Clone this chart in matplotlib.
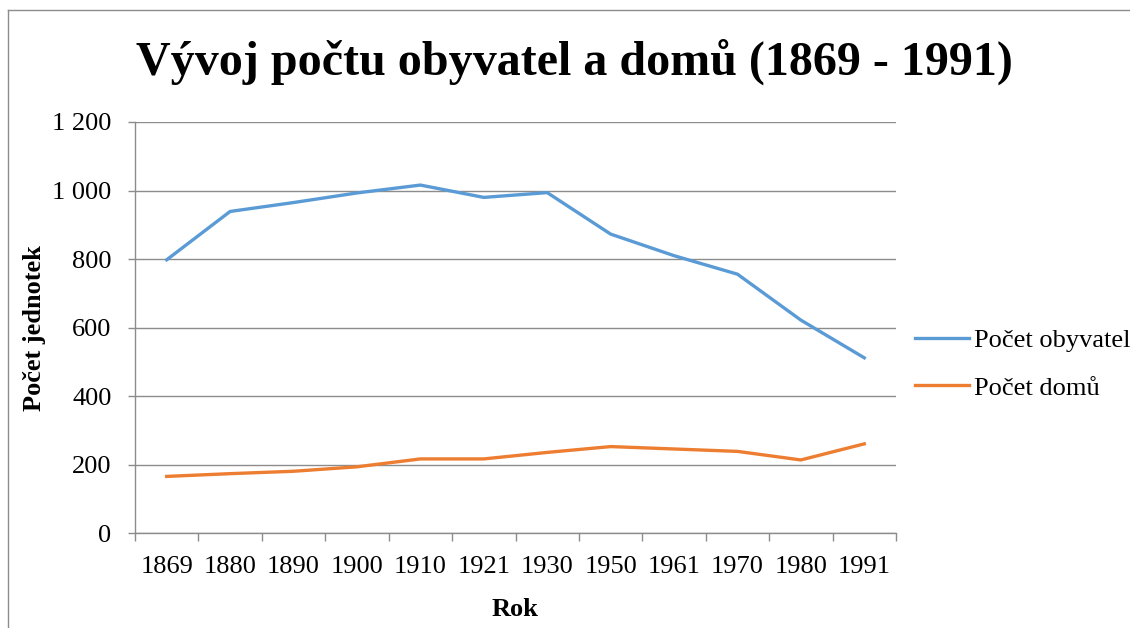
import matplotlib
matplotlib.use("Agg")
import matplotlib.pyplot as plt
from matplotlib.lines import Line2D

years = ["1869", "1880", "1890", "1900", "1910", "1921", "1930", "1950", "1961", "1970", "1980", "1991"]
obyvatel = [798, 939, 965, 993, 1016, 980, 994, 873, 810, 756, 622, 512]
domu = [166, 174, 181, 194, 217, 217, 236, 253, 246, 239, 214, 261]
yticks = [0, 200, 400, 600, 800, 1000, 1200]
ytick_labels = ["0", "200", "400", "600", "800", "1 000", "1 200"]

plt.rcParams['font.family'] = ['Liberation Serif', 'DejaVu Serif']
grid_c = "#8c8c8c"
fs = 19

fig = plt.figure(figsize=(11.3, 6.28), dpi=100)
ax = fig.add_axes([135/1130, 1 - 533.3/628, (896-135)/1130, (533.3-122)/628])

x = list(range(len(years)))
ax.plot(x, obyvatel, color="#5B9BD5", lw=2.4, label="Počet obyvatel", solid_joinstyle="round")
ax.plot(x, domu, color="#ED7D31", lw=2.4, label="Počet domů", solid_joinstyle="round")

ax.set_xlim(-0.5, len(years) - 0.5)
ax.set_ylim(0, 1200)
ax.set_yticks(yticks)
ax.set_yticklabels(ytick_labels)
ax.set_xticks([i - 0.5 for i in range(len(years) + 1)])
ax.set_xticklabels([])
ax.set_xticks(x, minor=True)
ax.set_xticklabels(years, minor=True)
ax.tick_params(axis="x", which="major", length=6, color=grid_c, width=1)
ax.tick_params(axis="x", which="minor", length=0, pad=16, labelsize=fs)
ax.tick_params(axis="y", length=5, color=grid_c, width=1, pad=12, labelsize=fs)

for s in ["top", "right"]:
    ax.spines[s].set_visible(False)
for s in ["left", "bottom"]:
    ax.spines[s].set_color(grid_c)
    ax.spines[s].set_linewidth(1)
ax.grid(axis="y", color=grid_c, lw=1)
ax.set_axisbelow(True)

ax.set_xlabel("Rok", fontsize=fs, fontweight="bold", labelpad=15)
ax.set_ylabel("Počet jednotek", fontsize=fs, fontweight="bold", labelpad=4)

fig.text(574/1130, 1 - 62/628, "Vývoj počtu obyvatel a domů (1869 - 1991)", fontsize=34.6,
         fontweight="bold", ha="center", va="center")

ax.legend(loc="center left", bbox_to_anchor=(915/1130, 1 - 364/628), bbox_transform=fig.transFigure,
          frameon=False, fontsize=fs, handlelength=2.05, handletextpad=0.19, labelspacing=0.92,
          borderpad=0, borderaxespad=0)

# outer chart border (left and top)
fig.add_artist(Line2D([8/1130, 8/1130], [0, 1 - 10/628], transform=fig.transFigure, color=grid_c, lw=1))
fig.add_artist(Line2D([8/1130, 1], [1 - 10/628, 1 - 10/628], transform=fig.transFigure, color=grid_c, lw=1))

fig.savefig("out.png", dpi=100)
